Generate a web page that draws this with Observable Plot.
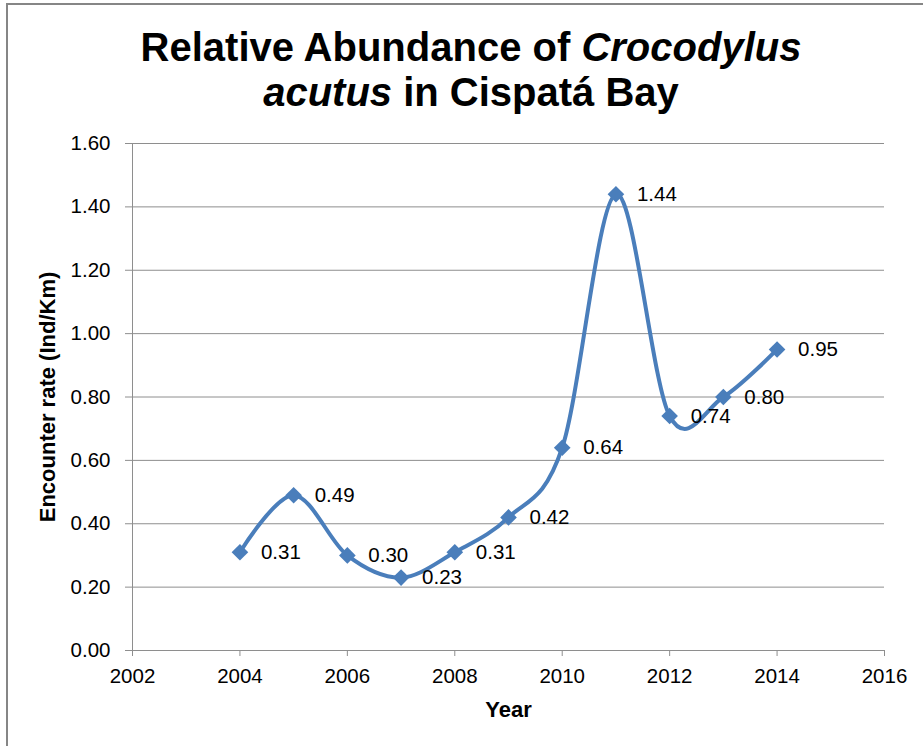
<!DOCTYPE html>
<html>
<head>
<meta charset="utf-8">
<script src="https://cdn.jsdelivr.net/npm/d3@7"></script>
<script src="https://cdn.jsdelivr.net/npm/@observablehq/plot@0.6"></script>
<style>
  html, body { margin: 0; padding: 0; background: #fff; }
  #chart { position: relative; width: 923px; height: 746px; overflow: hidden; font-family: "Liberation Sans", Arial, sans-serif; }
  #plot { position: absolute; left: 0; top: 0; }
  #frame { position: absolute; left: 6px; top: 3px; width: 1000px; height: 1000px; border-left: 2px solid #868686; border-top: 2px solid #868686; pointer-events: none; }
  #title { position: absolute; left: 0; top: 25px; width: 942px; text-align: center; font-weight: bold; font-size: 40px; line-height: 45px; color: #000; }
</style>
</head>
<body>
<div id="chart">
  <div id="plot"></div>
  <div id="frame"></div>
  <div id="title">Relative Abundance of <i>Crocodylus</i><br><i>acutus</i> in Cispatá Bay</div>
</div>
<script>
// Survey years and encounter rates (individuals per km)
const years = [2004, 2005, 2006, 2007, 2008, 2009, 2010, 2011, 2012, 2013, 2014];
const rates = [0.31, 0.49, 0.30, 0.23, 0.31, 0.42, 0.64, 1.44, 0.74, 0.80, 0.95];

// Axis ticks and titles
const yearTicks = [2002, 2004, 2006, 2008, 2010, 2012, 2014, 2016];
const rateTicks = [0, 0.2, 0.4, 0.6, 0.8, 1.0, 1.2, 1.4, 1.6];
const xTitle = "Year";
const yTitle = "Encounter rate (Ind/Km)";

const data = years.map((year, i) => ({year, rate: rates[i]}));
const blue = "#4A7EBB";
const gray = "#8e8e8e";

const chart = Plot.plot({
  width: 923,
  height: 746,
  marginTop: 143,
  marginBottom: 96,
  marginLeft: 132,
  marginRight: 39,
  style: {fontFamily: "'Liberation Sans', Arial, sans-serif", background: "transparent", color: "#000"},
  x: {domain: [2002, 2016]},
  y: {domain: [0, 1.6]},
  marks: [
    Plot.gridY(rateTicks, {stroke: gray, strokeOpacity: 1}),
    Plot.ruleX([2002], {stroke: gray}),
    Plot.axisY(rateTicks, {tickSize: 7, tickPadding: 15, tickFormat: ".2f", fontSize: 20.5, stroke: gray, label: null}),
    Plot.axisX(yearTicks, {tickSize: 6, tickPadding: 12, tickFormat: "d", fontSize: 20.5, stroke: gray, label: null}),
    // smoothed series line with diamond markers
    Plot.line(data, {x: "year", y: "rate", curve: "cardinal", tension: 0, stroke: blue, strokeWidth: 4}),
    Plot.dot(data, {x: "year", y: "rate", symbol: "diamond2", r: 7.5, fill: blue}),
    // value labels to the right of each marker
    Plot.text(data, {x: "year", y: "rate", text: d => d.rate.toFixed(2), textAnchor: "start", dx: 21, fontSize: 20.5, fill: "#000"}),
    // axis titles
    Plot.text([xTitle], {frameAnchor: "bottom", textAnchor: "middle", lineAnchor: "middle", dy: 59, fontWeight: "bold", fontSize: 22, fill: "#000"}),
    Plot.text([yTitle], {frameAnchor: "left", textAnchor: "middle", lineAnchor: "middle", dx: -85, rotate: -90, fontWeight: "bold", fontSize: 22, fill: "#000"})
  ]
});

document.getElementById("plot").appendChild(chart);
</script>
</body>
</html>
